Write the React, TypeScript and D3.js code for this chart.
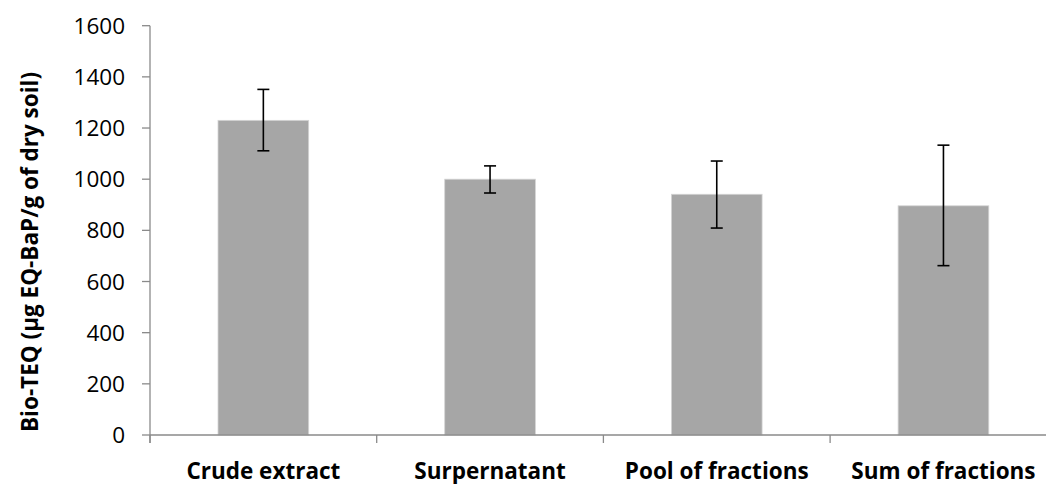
import React from "react";
import * as d3 from "d3";

const categories = ["Crude extract", "Surpernatant", "Pool of fractions", "Sum of fractions"];
const values = [1230, 1000, 941, 896];
const errLow = [1111, 946, 809, 662];
const errHigh = [1351, 1052, 1071, 1133];
const yTicks = [0, 200, 400, 600, 800, 1000, 1200, 1400, 1600];
const yTitle = "Bio-TEQ (µg EQ-BaP/g of dry soil)";

export default function App() {
  const W = 1046, H = 484;
  const x0 = 150, y0 = 435, yTop = 25.7;
  const step = 226.7;
  const x = d3.scaleBand<string>().domain(categories).range([x0, x0 + step * categories.length]).paddingInner(0.6).paddingOuter(0.3);
  const y = d3.scaleLinear().domain([0, 1600]).range([y0, yTop]);
  const axisColor = "#8a8a8a";
  const font = "'Open Sans', 'Liberation Sans', sans-serif";
  const bounds = categories.map((_, i) => x0 + step * i);
  bounds.push(x0 + step * categories.length);
  return (
    <svg width={W} height={H} style={{ position: "absolute", left: 0, top: 0, background: "#fff" }}>
      {categories.map((c, i) => (
        <rect key={c} x={x(c)} y={y(values[i])} width={x.bandwidth()} height={y0 - y(values[i])} fill="#a6a6a6" stroke="#d4d4d4" strokeWidth={0.8} />
      ))}
      {/* axes */}
      <line x1={x0} x2={x0} y1={yTop} y2={y0 + 8} stroke={axisColor} strokeWidth={1.3} />
      <line x1={x0} x2={x0 + step * categories.length} y1={y0} y2={y0} stroke={axisColor} strokeWidth={1.3} />
      {yTicks.map((t) => (
        <g key={t}>
          <line x1={x0 - 8} x2={x0} y1={y(t)} y2={y(t)} stroke={axisColor} strokeWidth={1.3} />
          <text x={125} y={y(t)} dy="0.36em" textAnchor="end" fontFamily={font} fontSize={22.5} fill="#000">{t}</text>
        </g>
      ))}
      {bounds.map((b, i) => (
        <line key={i} x1={b} x2={b} y1={y0} y2={y0 + 8} stroke={axisColor} strokeWidth={1.3} />
      ))}
      {categories.map((c) => (
        <text key={c} x={(x(c) as number) + x.bandwidth() / 2} y={479} textAnchor="middle" fontFamily={font} fontWeight="bold" fontSize={22.5} fill="#000">{c}</text>
      ))}
      {/* error bars */}
      {categories.map((c, i) => {
        const cx = (x(c) as number) + x.bandwidth() / 2;
        return (
          <g key={c} stroke="#000" strokeWidth={1.6}>
            <line x1={cx} x2={cx} y1={y(errLow[i])} y2={y(errHigh[i])} />
            <line x1={cx - 6} x2={cx + 6} y1={y(errLow[i])} y2={y(errLow[i])} />
            <line x1={cx - 6} x2={cx + 6} y1={y(errHigh[i])} y2={y(errHigh[i])} />
          </g>
        );
      })}
      <text transform={`translate(38, 252) rotate(-90)`} textAnchor="middle" fontFamily={font} fontWeight="bold" fontSize={22.5} fill="#000">{yTitle}</text>
    </svg>
  );
}
